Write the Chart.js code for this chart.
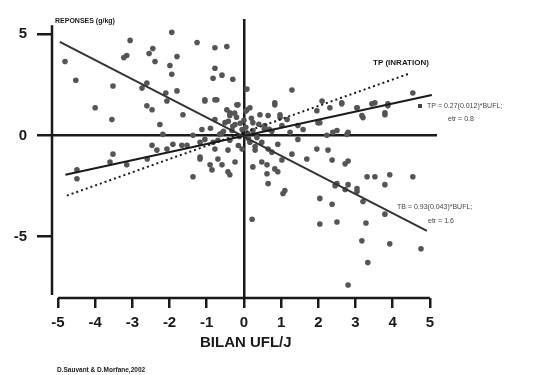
<!DOCTYPE html>
<html>
<head>
<meta charset="utf-8">
<script src="https://cdn.jsdelivr.net/npm/chart.js@4"></script>
<style>
  body { margin: 0; background: #fff; }
  canvas { display: block; }
</style>
</head>
<body>
<canvas id="chart" width="534" height="375"></canvas>
<script>
// scatter points (BILAN UFL/J, REPONSES g/kg)
const xVals = [
  -1.94, -3.06, -1.26, -0.78, -0.46, -2.45, -2.55, -3.15, -3.23, -1.8, -2.39, -4.81, -1.99, -1.94,
  -0.78, -0.83, -0.59, -0.3, -4.52, -3.52, -2.74, -2.61, -1.8, -2.1, -1.05, -0.78, -2.07, -4.0,
  -2.61, -2.47, -1.64, -3.55, -2.26, -0.16, 0.08, -0.38, 0.08, -2.18, -1.37, -2.47, -3.52, -1.91,
  -1.67, -4.49, -4.49, -1.37, -0.91, -0.38, -0.59, -1.18, -3.6, -3.15, -2.6, -2.34, -2.07, -1.53,
  -1.18, -0.83, 0.22,
  1.29, 4.54, 0.83, 2.1, 2.63, 3.04, 3.52, 3.87, 3.79, 3.2, 2.31, 2.04, 1.59, 2.5, 2.8, 2.23, 1.45,
  1.96, 2.26, 2.37, 2.72, 2.8, 0.65, 1.29, 1.69, 0.62, 0.83, 0.65, 3.31, 3.52, 3.92, 4.54, 3.79,
  2.5, 2.8, 3.04, 1.1,
  1.05, 2.45, 2.72, 3.04, 2.04, 2.37, 3.2, 3.79, 2.04, 2.5, 3.28, 3.17, 3.92, 4.76, 3.33, 2.8,
  -1.05, -0.73, -0.19, 0.83, 0.16, -0.46, -0.38, 0.43, 0.65, 0.97, -0.78, -0.51, -0.24, 0.24, 0.56,
  1.02, -0.05, 0.24, -0.32, -1.13, 0.75, 1.24, -0.7, -0.38, 0.16, 0.48, -1.05, 0.91, -0.78, -0.43,
  -0.05, 0.3, 0.75, -1.18, -0.7, -0.24, 0.48, 1.02, -0.86, -0.43, 0.24, 0.62, 0.91,
  2.63, 3.04, 3.44, 3.87, 3.17, 3.79, 1.96, 0.97, 1.16, 1.99, 2.39, 2.77, 1.45,
  -0.1, 0.05, -0.2, 0.1, -0.6, 0.35, -0.9, 0.55, -0.15, 0.0,
  -0.3, 0.2, -0.55, 0.4, -0.12, 0.12, -0.42, 0.68, -0.25, 0.3, -0.65, 0.05
];
const yVals = [
  5.1, 4.7, 4.6, 4.34, 4.4, 4.3, 4.05, 3.95, 3.85, 3.9, 3.66, 3.66, 3.46, 3.02,
  3.32, 2.83, 2.98, 2.78, 2.73, 2.44, 2.34, 2.59, 2.2, 2.1, 1.7, 1.76, 1.7, 1.37,
  1.46, 1.27, 1.02, 0.78, 0.54, 1.51, 2.29, 1.12, 1.27, 0.05, 0.0, -0.49, -0.93, -0.44,
  -0.49, -1.71, -2.15, -2.05, -1.46, -1.95, -1.46, -1.17, -1.32, -1.46, -1.17, -0.73, -0.68, -0.49,
  -0.34, -0.34, -4.15,
  2.24, 2.1, 1.61, 1.7, 1.61, 1.37, 1.61, 1.46, 1.12, 0.88, 1.37, 0.63, 0.29, 0.24, 0.15, 0.0, -0.2,
  -0.68, -0.73, -1.22, -1.41, -1.27, -0.68, -0.93, -1.17, -1.46, -1.66, -2.39, -2.05, -2.05, -1.95, -2.05, -2.44,
  -2.39, -2.44, -2.63, -2.73,
  -2.88, -2.49, -2.68, -2.78, -3.12, -3.41, -3.27, -3.9, -4.39, -4.29, -4.34, -5.22, -5.37, -5.61, -6.29, -7.41,
  1.76, 1.76, 1.51, 1.51, 1.37, 1.27, 0.98, 1.02, 0.98, 0.88, 0.78, 0.63, 0.54, 0.63, 0.49,
  0.49, 0.29, 0.24, 0.24, 0.29, 0.2, 0.15, -0.24, -0.24, -0.34, -0.34, -0.2, -0.44, -0.68, -0.73,
  -0.68, -0.73, -0.83, -1.07, -1.17, -1.32, -1.32, -1.22, -1.71, -1.8, -1.56, -1.9, -1.8,
  1.56, 1.37, 1.56, 1.56, 0.98, 1.02, 1.22, 1.02, 0.78, 0.63, 0.15, 0.05, 0.49,
  0.6, 0.4, 0.9, 0.1, 0.1, -0.1, 0.35, 0.3, -0.5, 0.75,
  0.45, 0.85, 0.2, 0.55, -0.05, -0.15, 0.7, 0.3, 1.1, -0.55, 0.05, 1.2
];

// regression lines (end points)
const tbLineX = [-4.95, 4.92];
const tbLineY = [4.63, -4.73];
const tpLineX = [-4.8, 5.05];
const tpLineY = [-1.95, 2.0];
const inraLineX = [-4.76, 4.46];
const inraLineY = [-2.98, 3.07];

const xTicks = [-5, -4, -3, -2, -1, 0, 1, 2, 3, 4, 5];
const yTicks = [-5, 0, 5];

const toPoints = (xs, ys) => xs.map((x, i) => ({ x: x, y: ys[i] }));
const INK = "#1a1a1a";
const FONT = "'Liberation Sans', Arial, sans-serif";

// offset axis lines + the small texts of the figure
const decorations = {
  id: "decorations",
  afterDraw(chart) {
    const { ctx, scales, chartArea } = chart;
    const xs = scales.x, ys = scales.y;
    ctx.save();
    ctx.strokeStyle = INK;
    ctx.lineWidth = 2.5;
    ctx.beginPath();
    ctx.moveTo(chartArea.left, ys.getPixelForValue(5.45));
    ctx.lineTo(chartArea.left, ys.getPixelForValue(-7.9));
    ctx.moveTo(xs.getPixelForValue(-5), chartArea.bottom);
    ctx.lineTo(xs.getPixelForValue(5), chartArea.bottom);
    ctx.stroke();

    ctx.fillStyle = INK;
    ctx.textBaseline = "middle";
    ctx.textAlign = "left";
    ctx.font = "bold 7px " + FONT;
    ctx.fillText("REPONSES (g/kg)", 55, 21);
    ctx.font = "bold 8px " + FONT;
    ctx.fillText("TP (INRATION)", 373, 63);
    ctx.font = "7px " + FONT;
    ctx.fillStyle = "#444";
    ctx.fillRect(418, 104, 4, 4);
    ctx.fillText("TP = 0.27(0.012)*BUFL;", 427, 106);
    ctx.fillText("etr = 0.8", 448, 119);
    ctx.fillText("TB = 0.93(0.043)*BUFL;", 397, 207);
    ctx.fillText("etr = 1.6", 428, 221);
    ctx.fillStyle = INK;
    ctx.font = "bold 15px " + FONT;
    ctx.textAlign = "center";
    ctx.fillText("BILAN UFL/J", xs.getPixelForValue(0.05), 343);
    ctx.font = "bold 6.5px " + FONT;
    ctx.textAlign = "left";
    ctx.fillText("D.Sauvant & D.Morfane,2002", 57, 370);
    ctx.restore();
  }
};

const zeroLine = (c) => (c.tick && c.tick.value === 0 ? INK : "rgba(0,0,0,0)");

new Chart(document.getElementById("chart").getContext("2d"), {
  type: "scatter",
  data: {
    datasets: [
      {
        label: "points",
        data: toPoints(xVals, yVals),
        pointRadius: 2.8,
        pointBackgroundColor: "#555",
        pointBorderWidth: 0,
        order: 3
      },
      {
        label: "TB",
        data: toPoints(tbLineX, tbLineY),
        showLine: true,
        borderColor: "#333",
        borderWidth: 2,
        pointRadius: 0,
        order: 1
      },
      {
        label: "TP",
        data: toPoints(tpLineX, tpLineY),
        showLine: true,
        borderColor: INK,
        borderWidth: 2,
        pointRadius: 0,
        order: 1
      },
      {
        label: "TP (INRATION)",
        data: toPoints(inraLineX, inraLineY),
        showLine: true,
        borderColor: INK,
        borderWidth: 2,
        borderDash: [2, 3],
        pointRadius: 0,
        order: 1
      }
    ]
  },
  options: {
    responsive: false,
    animation: false,
    layout: { padding: { top: 15, right: 97, left: 0, bottom: 0 } },
    plugins: { legend: { display: false }, tooltip: { enabled: false } },
    scales: {
      x: {
        type: "linear",
        min: -5.16,
        max: 5.19,
        afterFit: (s) => { s.height = 77; },
        afterBuildTicks: (s) => { s.ticks = xTicks.map((v) => ({ value: v })); },
        border: { display: false },
        grid: { color: zeroLine, lineWidth: 2.5, tickColor: INK, tickLength: 10, drawTicks: true },
        ticks: {
          color: INK,
          padding: 6,
          autoSkip: false,
          maxRotation: 0,
          font: { family: FONT, size: 15, weight: "bold" }
        }
      },
      y: {
        type: "linear",
        min: -8.05,
        max: 5.76,
        afterFit: (s) => { s.width = 52; },
        afterBuildTicks: (s) => { s.ticks = yTicks.map((v) => ({ value: v })); },
        border: { display: false },
        grid: { color: zeroLine, lineWidth: 2.5, tickColor: INK, tickLength: 15, drawTicks: true },
        ticks: {
          color: INK,
          padding: 10,
          font: { family: FONT, size: 15, weight: "bold" }
        }
      }
    }
  },
  plugins: [decorations]
});
</script>
</body>
</html>
